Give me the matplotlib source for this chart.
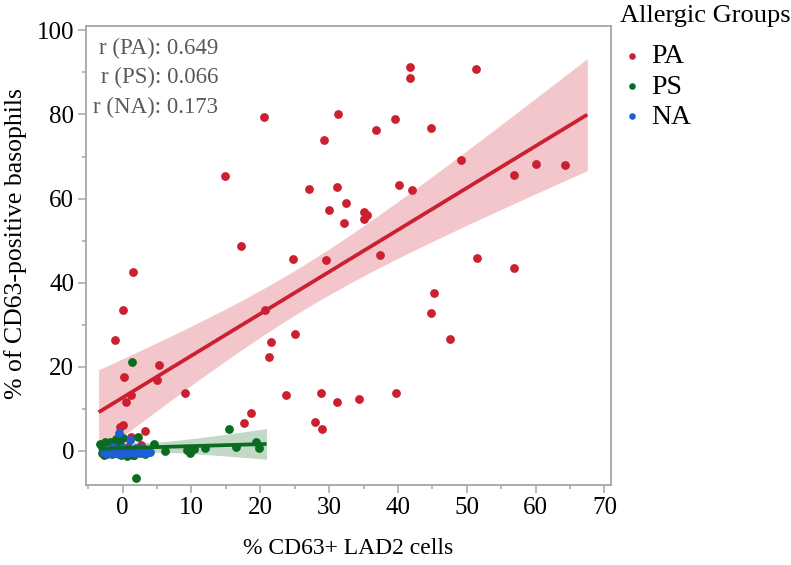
import numpy as np
import matplotlib
matplotlib.use("Agg")
import matplotlib.pyplot as plt
from matplotlib.ticker import MultipleLocator

plt.rcParams['font.family'] = ['Liberation Serif', 'DejaVu Serif']

# values (the last few of PA / PS sit under the cluster at the origin)
pa_x = [41.8, 41.7, 51.4, 31.3, 29.3, 39.5, 36.8, 44.8, 49.2, 56.9,
        60.0, 64.2, 27.0, 31.1, 40.1, 42.1, 32.4, 30.0, 35.0, 35.5,
        35.0, 32.1, 17.2, 24.8, 29.6, 37.4, 51.5, 56.8, 20.7, 45.2,
        44.8, 47.6, 25.1, 21.5, 21.2, 9.0, 23.8, 28.8, 31.2, 34.3,
        39.7, 18.6, 17.6, 28.0, 29.0, 1.5, 0.0, -1.1, 5.3, 0.2,
        5.0, 1.2, 0.5, -0.4, 0.1, 3.2, 1.2, 20.6, 14.8,
        0.8, 1.6, 2.6, -0.6, 2.2]
pa_y = [91.2, 88.7, 90.8, 80.1, 74.0, 79.0, 76.2, 76.7, 69.2, 65.6,
        68.2, 68.1, 62.2, 62.7, 63.2, 62.1, 59.0, 57.4, 56.8, 56.1,
        55.2, 54.3, 48.7, 45.7, 45.3, 46.6, 45.9, 43.6, 33.6, 37.5,
        32.8, 26.6, 27.8, 25.9, 22.3, 13.7, 13.4, 13.7, 11.7, 12.3,
        13.7, 9.0, 6.7, 6.9, 5.2, 42.5, 33.6, 26.3, 20.4, 17.5,
        16.8, 13.3, 11.6, 5.8, 6.2, 4.8, 3.3, 79.4, 65.4,
        0.9, 0.3, 1.4, 0.5, 0.2]

ps_x = [-3.3, -2.6, -1.8, -1.4, 0.1, 2.3, 4.5, 6.2, 9.3, 9.8,
        10.3, 12.0, 16.5, 19.3, 19.8, 15.4, 1.4, 1.9, 1.5, 0.6,
        -1.0, -0.4,
        -3.0, -2.7, -2.3, -2.0, -1.6, -1.2, -0.9, -0.5, -0.2, 0.2,
        0.5, 0.8, 1.0, 1.3, 1.7, 2.0, 2.5, 2.9, 3.3, 3.8]
ps_y = [1.7, 2.2, 2.2, 2.2, 3.0, 3.3, 1.7, 0.1, 0.2, -0.4,
        0.4, 0.6, 1.0, 2.2, 0.8, 5.2, 21.1, -6.5, -1.0, -1.2,
        2.8, 1.5,
        -0.6, -0.9, -0.2, -0.5, -0.8, 0.1, -0.4, -0.7, -1.0, 0.0,
        -0.3, -0.6, -0.1, -0.5, -0.9, 0.2, -0.4, -0.2, -0.7, -0.3]

na_x = [-2.3, -1.6, -0.9, -0.1, 0.1, 1.1, 1.3, 2.0, 2.8, 3.7, 4.0, -1.4, -0.5,
        -1.9, -0.5, 0.7, 1.8, 2.5, 3.2, -2.7, 0.4, 1.6, -1.2, 2.3]
na_y = [-0.7, -0.2, 0.2, 0.6, -0.5, 2.6, -0.2, 0.6, 0.6, 0.2, -0.2, 1.0, 4.2,
        -0.6, -0.7, -0.6, -0.5, -0.3, -0.4, -0.3, 0.3, 0.2, -0.4, 0.1]

groups = ["PA", "PS", "NA"]
colors = {"PA": "#cc1f2f", "PS": "#0b6b1f", "NA": "#1f5fd6"}
r_text = ["r (PA): 0.649", "r (PS): 0.066", "r (NA): 0.173"]
fit_range = {"PA": (-3.5, 67.5), "PS": (-3.5, 20.9), "NA": (-2.6, 4.2)}

data = {"PA": (pa_x, pa_y), "PS": (ps_x, ps_y), "NA": (na_x, na_y)}


def t975(df):
    # rough student t quantile, good enough for the band
    z = 1.959964
    return z + (z**3 + z) / (4 * df) + (5 * z**5 + 16 * z**3 + 3 * z) / (96 * df**2)


def fit_band(x, y, lo, hi):
    x = np.asarray(x, float)
    y = np.asarray(y, float)
    n = len(x)
    b, a = np.polyfit(x, y, 1)
    res = y - (a + b * x)
    s = np.sqrt(np.sum(res**2) / (n - 2))
    xx = np.linspace(lo, hi, 200)
    se = s * np.sqrt(1.0 / n + (xx - x.mean())**2 / np.sum((x - x.mean())**2))
    yy = a + b * xx
    return xx, yy, yy - t975(n - 2) * se, yy + t975(n - 2) * se


fig = plt.figure(figsize=(7.91, 5.65), dpi=100)
ax = fig.add_axes([0.1087, 0.1416, 0.6633, 0.8129])

for g in groups:
    xx, yy, lo, hi = fit_band(*data[g], *fit_range[g])
    ax.fill_between(xx, lo, hi, color=colors[g], alpha=0.25, lw=0, zorder=1)

for g in groups:
    ax.scatter(data[g][0], data[g][1], s=40, color=colors[g], lw=0,
               zorder=3, label=g)

# NA fit sits under the dots, PA / PS lines on top
line_z = {"PA": 4, "PS": 4, "NA": 2}
for g in groups:
    xx, yy, lo, hi = fit_band(*data[g], *fit_range[g])
    ax.plot(xx, yy, color=colors[g], lw=2.7, zorder=line_z[g], solid_capstyle='butt')

ax.set_xlim(-5.33, 70.9)
ax.set_ylim(-8.1, 101.1)
ax.xaxis.set_major_locator(MultipleLocator(10))
ax.xaxis.set_minor_locator(MultipleLocator(5))
ax.yaxis.set_major_locator(MultipleLocator(20))
ax.yaxis.set_minor_locator(MultipleLocator(10))

gray = "#a6a6a6"
for sp in ax.spines.values():
    sp.set_color(gray)
    sp.set_linewidth(1.3)
ax.tick_params(which='major', direction='out', length=5.5, width=1.1,
               color=gray, labelsize=18, pad=3)
ax.tick_params(which='minor', direction='out', length=3, width=1.1, color=gray)

ax.set_xlabel("% CD63+ LAD2 cells", fontsize=17, labelpad=14)
ax.set_ylabel("% of CD63-positive basophils", fontsize=18.5)
ax.yaxis.set_label_coords(-0.112, 0.525)

for i, t in enumerate(r_text):
    ax.text(0.2516, 0.950 - i * 0.0635, t, transform=ax.transAxes,
            ha='right', va='center', fontsize=16.5, color="#595959")

fig.text(620 / 791, 1 - 16 / 565, "Allergic Groups", fontsize=19,
         ha='left', va='center')
fig.legend(loc='upper left', bbox_to_anchor=(625 / 791, 1 - 44 / 565),
           frameon=False, fontsize=20, markerscale=0.75, handlelength=0.5,
           handletextpad=0.45, labelspacing=0.17, borderpad=0, borderaxespad=0)

fig.savefig("out.png", dpi=100)
